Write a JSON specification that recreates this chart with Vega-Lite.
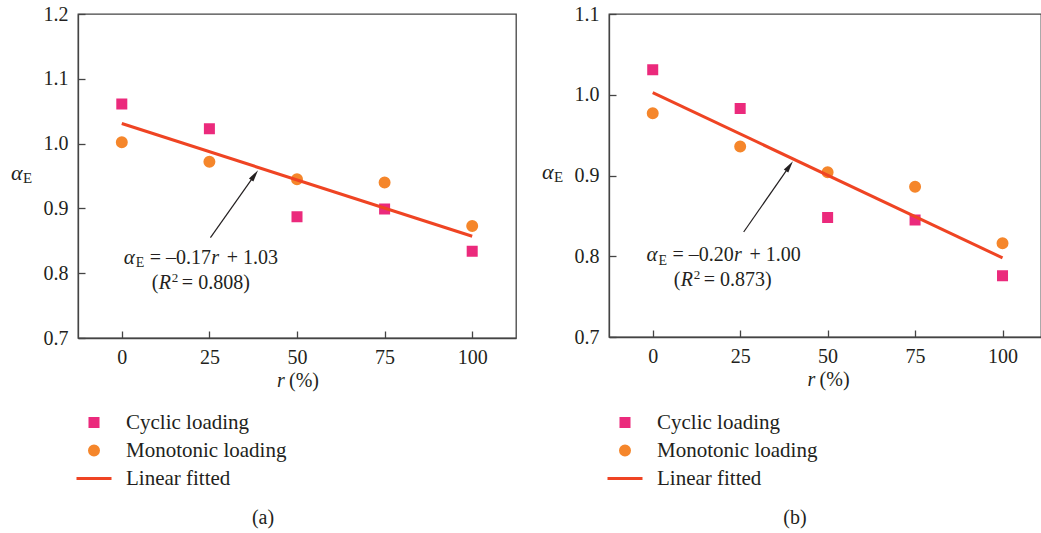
{
  "$schema": "https://vega.github.io/schema/vega-lite/v6.json",
  "padding": {"left": 10, "top": 3, "right": 0, "bottom": 0},
  "background": "white",
  "spacing": 24,
  "config": {
    "font": "Liberation Serif",
    "view": {"stroke": "#444444", "strokeWidth": 1.3},
    "axis": {
      "labelFont": "Liberation Serif", "labelFontSize": 20, "labelColor": "#231f20",
      "titleFont": "Liberation Serif", "titleFontSize": 20, "titleColor": "#231f20", "titleFontWeight": "normal",
      "domainColor": "#444444", "domainWidth": 1.3, "tickColor": "#444444", "tickWidth": 1.3,
      "tickSize": -7, "grid": false
    },
    "legend": {
      "orient": "none", "legendX": 0.5, "legendY": 393, "title": null, "padding": 0,
      "labelFont": "Liberation Serif", "labelFontSize": 21, "labelColor": "#231f20", "labelLimit": 400,
      "symbolSize": 784, "symbolStrokeWidth": 3, "labelOffset": 16.5, "rowPadding": 2, "symbolOpacity": 1
    },
    "title": {"font": "Liberation Serif", "fontSize": 20, "fontWeight": "normal", "color": "#231f20"}
  },
  "resolve": {
    "scale": {"x": "independent", "y": "independent", "color": "independent", "stroke": "independent", "shape": "independent"},
    "legend": {"color": "independent", "stroke": "independent", "shape": "independent"}
  },
  "hconcat": [
    {
      "width": 438, "height": 324,
      "title": {"text": "(a)", "orient": "bottom", "offset": 19, "dx": -34},
      "encoding": {
        "x": {"field": "x", "type": "quantitative", "scale": {"domain": [-12.5, 112.5], "nice": false, "zero": false},
              "axis": {"values": [0, 25, 50, 75, 100], "title": null, "labelPadding": 16}},
        "y": {"field": "y", "type": "quantitative", "scale": {"domain": [0.7, 1.2], "nice": false, "zero": false},
              "axis": {"values": [0.7, 0.8, 0.9, 1.0, 1.1, 1.2], "format": ".1f", "title": null, "labelPadding": 17}}
      },
      "layer": [
        {
          "data": {"values": [
            {"x": 0, "y": 1.061, "series": "Cyclic loading"},
            {"x": 25, "y": 1.023, "series": "Cyclic loading"},
            {"x": 50, "y": 0.887, "series": "Cyclic loading"},
            {"x": 75, "y": 0.899, "series": "Cyclic loading"},
            {"x": 100, "y": 0.834, "series": "Cyclic loading"},
            {"x": 0, "y": 1.002, "series": "Monotonic loading"},
            {"x": 25, "y": 0.972, "series": "Monotonic loading"},
            {"x": 50, "y": 0.945, "series": "Monotonic loading"},
            {"x": 75, "y": 0.940, "series": "Monotonic loading"},
            {"x": 100, "y": 0.873, "series": "Monotonic loading"}
          ]},
          "mark": {"type": "point", "filled": true, "size": 784, "strokeWidth": 3, "opacity": 1},
          "encoding": {
            "color": {"field": "series", "type": "nominal", "scale": {"domain": ["Cyclic loading", "Monotonic loading", "Linear fitted"], "range": ["#eb2a7c", "#f5862b", "#ef4423"]}},
            "stroke": {"field": "series", "type": "nominal", "scale": {"domain": ["Cyclic loading", "Monotonic loading", "Linear fitted"], "range": ["#eb2a7c", "#f5862b", "#ef4423"]}},
            "shape": {"field": "series", "type": "nominal", "scale": {"domain": ["Cyclic loading", "Monotonic loading", "Linear fitted"], "range": ["M-0.286,-0.286H0.286V0.286H-0.286Z", "M0.321,0A0.321,0.321,0,1,1,-0.321,0A0.321,0.321,0,1,1,0.321,0Z", "M-1.25,0H1.25"]}}
          }
        },
        {
          "data": {"values": [
            {"x": 0, "y": 1.031, "series": "Linear fitted"},
            {"x": 100, "y": 0.857, "series": "Linear fitted"}
          ]},
          "mark": {"type": "line", "strokeWidth": 3},
          "encoding": {
            "color": {"field": "series", "type": "nominal", "scale": {"domain": ["Cyclic loading", "Monotonic loading", "Linear fitted"], "range": ["#eb2a7c", "#f5862b", "#ef4423"]}}
          }
        },
        {
          "data": {"values": [{"x": 25.3, "y": 0.855, "x2": 37.9, "y2": 0.9513}]},
          "mark": {"type": "rule", "color": "#231f20", "strokeWidth": 1.2},
          "encoding": {"x2": {"field": "x2"}, "y2": {"field": "y2"}}
        },
        {
          "data": {"values": [{"x": 37.9, "y": 0.9513}]},
          "mark": {"type": "point", "shape": "M0,-1L0.45,1L-0.45,1Z", "size": 144, "angle": 35, "filled": true, "color": "#231f20", "opacity": 1}
        },
        {"data": {"values": [{"x": 0.57, "y": 0.8147, "t": "α"}]}, "mark": {"type": "text", "fontStyle": "italic", "fontSize": 21, "align": "left", "baseline": "alphabetic", "color": "#231f20"}, "encoding": {"text": {"field": "t"}}},
        {"data": {"values": [{"x": 0.57, "y": 0.8147, "t": "E"}]}, "mark": {"type": "text", "fontSize": 14, "align": "left", "baseline": "alphabetic", "dx": 12, "dy": 3.5, "color": "#231f20"}, "encoding": {"text": {"field": "t"}}},
        {"data": {"values": [{"x": 0.57, "y": 0.8147, "t": "= –0.17"}]}, "mark": {"type": "text", "fontSize": 20, "align": "left", "baseline": "alphabetic", "dx": 26, "color": "#231f20"}, "encoding": {"text": {"field": "t"}}},
        {"data": {"values": [{"x": 0.57, "y": 0.8147, "t": "r"}]}, "mark": {"type": "text", "fontStyle": "italic", "fontSize": 20, "align": "left", "baseline": "alphabetic", "dx": 87.5, "color": "#231f20"}, "encoding": {"text": {"field": "t"}}},
        {"data": {"values": [{"x": 0.57, "y": 0.8147, "t": "+ 1.03"}]}, "mark": {"type": "text", "fontSize": 20, "align": "left", "baseline": "alphabetic", "dx": 103, "color": "#231f20"}, "encoding": {"text": {"field": "t"}}},
        {"data": {"values": [{"x": 8.58, "y": 0.775, "t": "("}]}, "mark": {"type": "text", "fontSize": 20, "align": "left", "baseline": "alphabetic", "color": "#231f20"}, "encoding": {"text": {"field": "t"}}},
        {"data": {"values": [{"x": 8.58, "y": 0.775, "t": "R"}]}, "mark": {"type": "text", "fontStyle": "italic", "fontSize": 20, "align": "left", "baseline": "alphabetic", "dx": 7, "color": "#231f20"}, "encoding": {"text": {"field": "t"}}},
        {"data": {"values": [{"x": 8.58, "y": 0.775, "t": "2"}]}, "mark": {"type": "text", "fontSize": 13, "align": "left", "baseline": "alphabetic", "dx": 20, "dy": -7, "color": "#231f20"}, "encoding": {"text": {"field": "t"}}},
        {"data": {"values": [{"x": 8.58, "y": 0.775, "t": "= 0.808)"}]}, "mark": {"type": "text", "fontSize": 20, "align": "left", "baseline": "alphabetic", "dx": 30, "color": "#231f20"}, "encoding": {"text": {"field": "t"}}},
        {"data": {"values": [{"x": -12.5, "y": 0.9434, "t": "α"}]}, "mark": {"type": "text", "fontStyle": "italic", "fontSize": 22, "align": "left", "baseline": "alphabetic", "dx": -67, "color": "#231f20"}, "encoding": {"text": {"field": "t"}}},
        {"data": {"values": [{"x": -12.5, "y": 0.9434, "t": "E"}]}, "mark": {"type": "text", "fontSize": 15, "align": "left", "baseline": "alphabetic", "dx": -55, "dy": 3, "color": "#231f20"}, "encoding": {"text": {"field": "t"}}},
        {"data": {"values": [{"x": 50, "y": 0.7, "t": "r"}]}, "mark": {"type": "text", "fontStyle": "italic", "fontSize": 20, "align": "left", "baseline": "alphabetic", "dx": -20, "dy": 49, "color": "#231f20"}, "encoding": {"text": {"field": "t"}}},
        {"data": {"values": [{"x": 50, "y": 0.7, "t": "(%)"}]}, "mark": {"type": "text", "fontSize": 20, "align": "left", "baseline": "alphabetic", "dx": -8, "dy": 49, "color": "#231f20"}, "encoding": {"text": {"field": "t"}}}
      ]
    },
    {
      "width": 432, "height": 323,
      "title": {"text": "(b)", "orient": "bottom", "offset": 19, "dx": -30},
      "encoding": {
        "x": {"field": "x", "type": "quantitative", "scale": {"domain": [-12.5, 111], "nice": false, "zero": false},
              "axis": {"values": [0, 25, 50, 75, 100], "title": null, "labelPadding": 16}},
        "y": {"field": "y", "type": "quantitative", "scale": {"domain": [0.7, 1.1], "nice": false, "zero": false},
              "axis": {"values": [0.7, 0.8, 0.9, 1.0, 1.1], "format": ".1f", "title": null, "labelPadding": 17}}
      },
      "layer": [
        {
          "data": {"values": [
            {"x": 0, "y": 1.031, "series": "Cyclic loading"},
            {"x": 25, "y": 0.983, "series": "Cyclic loading"},
            {"x": 50, "y": 0.848, "series": "Cyclic loading"},
            {"x": 75, "y": 0.845, "series": "Cyclic loading"},
            {"x": 100, "y": 0.776, "series": "Cyclic loading"},
            {"x": 0, "y": 0.977, "series": "Monotonic loading"},
            {"x": 25, "y": 0.936, "series": "Monotonic loading"},
            {"x": 50, "y": 0.904, "series": "Monotonic loading"},
            {"x": 75, "y": 0.886, "series": "Monotonic loading"},
            {"x": 100, "y": 0.816, "series": "Monotonic loading"}
          ]},
          "mark": {"type": "point", "filled": true, "size": 784, "strokeWidth": 3, "opacity": 1},
          "encoding": {
            "color": {"field": "series", "type": "nominal", "scale": {"domain": ["Cyclic loading", "Monotonic loading", "Linear fitted"], "range": ["#eb2a7c", "#f5862b", "#ef4423"]}},
            "stroke": {"field": "series", "type": "nominal", "scale": {"domain": ["Cyclic loading", "Monotonic loading", "Linear fitted"], "range": ["#eb2a7c", "#f5862b", "#ef4423"]}},
            "shape": {"field": "series", "type": "nominal", "scale": {"domain": ["Cyclic loading", "Monotonic loading", "Linear fitted"], "range": ["M-0.286,-0.286H0.286V0.286H-0.286Z", "M0.321,0A0.321,0.321,0,1,1,-0.321,0A0.321,0.321,0,1,1,0.321,0Z", "M-1.25,0H1.25"]}}
          }
        },
        {
          "data": {"values": [
            {"x": 0, "y": 1.0026, "series": "Linear fitted"},
            {"x": 100, "y": 0.798, "series": "Linear fitted"}
          ]},
          "mark": {"type": "line", "strokeWidth": 3},
          "encoding": {
            "color": {"field": "series", "type": "nominal", "scale": {"domain": ["Cyclic loading", "Monotonic loading", "Linear fitted"], "range": ["#eb2a7c", "#f5862b", "#ef4423"]}}
          }
        },
        {
          "data": {"values": [{"x": 26.0, "y": 0.830, "x2": 39.1, "y2": 0.9116}]},
          "mark": {"type": "rule", "color": "#231f20", "strokeWidth": 1.2},
          "encoding": {"x2": {"field": "x2"}, "y2": {"field": "y2"}}
        },
        {
          "data": {"values": [{"x": 39.1, "y": 0.9116}]},
          "mark": {"type": "point", "shape": "M0,-1L0.45,1L-0.45,1Z", "size": 144, "angle": 35, "filled": true, "color": "#231f20", "opacity": 1}
        },
        {"data": {"values": [{"x": -1.8, "y": 0.7939, "t": "α"}]}, "mark": {"type": "text", "fontStyle": "italic", "fontSize": 21, "align": "left", "baseline": "alphabetic", "color": "#231f20"}, "encoding": {"text": {"field": "t"}}},
        {"data": {"values": [{"x": -1.8, "y": 0.7939, "t": "E"}]}, "mark": {"type": "text", "fontSize": 14, "align": "left", "baseline": "alphabetic", "dx": 12, "dy": 3.5, "color": "#231f20"}, "encoding": {"text": {"field": "t"}}},
        {"data": {"values": [{"x": -1.8, "y": 0.7939, "t": "= –0.20"}]}, "mark": {"type": "text", "fontSize": 20, "align": "left", "baseline": "alphabetic", "dx": 26, "color": "#231f20"}, "encoding": {"text": {"field": "t"}}},
        {"data": {"values": [{"x": -1.8, "y": 0.7939, "t": "r"}]}, "mark": {"type": "text", "fontStyle": "italic", "fontSize": 20, "align": "left", "baseline": "alphabetic", "dx": 87.5, "color": "#231f20"}, "encoding": {"text": {"field": "t"}}},
        {"data": {"values": [{"x": -1.8, "y": 0.7939, "t": "+ 1.00"}]}, "mark": {"type": "text", "fontSize": 20, "align": "left", "baseline": "alphabetic", "dx": 103, "color": "#231f20"}, "encoding": {"text": {"field": "t"}}},
        {"data": {"values": [{"x": 6.0, "y": 0.763, "t": "("}]}, "mark": {"type": "text", "fontSize": 20, "align": "left", "baseline": "alphabetic", "color": "#231f20"}, "encoding": {"text": {"field": "t"}}},
        {"data": {"values": [{"x": 6.0, "y": 0.763, "t": "R"}]}, "mark": {"type": "text", "fontStyle": "italic", "fontSize": 20, "align": "left", "baseline": "alphabetic", "dx": 7, "color": "#231f20"}, "encoding": {"text": {"field": "t"}}},
        {"data": {"values": [{"x": 6.0, "y": 0.763, "t": "2"}]}, "mark": {"type": "text", "fontSize": 13, "align": "left", "baseline": "alphabetic", "dx": 20, "dy": -7, "color": "#231f20"}, "encoding": {"text": {"field": "t"}}},
        {"data": {"values": [{"x": 6.0, "y": 0.763, "t": "= 0.873)"}]}, "mark": {"type": "text", "fontSize": 20, "align": "left", "baseline": "alphabetic", "dx": 30, "color": "#231f20"}, "encoding": {"text": {"field": "t"}}},
        {"data": {"values": [{"x": -12.5, "y": 0.8962, "t": "α"}]}, "mark": {"type": "text", "fontStyle": "italic", "fontSize": 22, "align": "left", "baseline": "alphabetic", "dx": -67, "color": "#231f20"}, "encoding": {"text": {"field": "t"}}},
        {"data": {"values": [{"x": -12.5, "y": 0.8962, "t": "E"}]}, "mark": {"type": "text", "fontSize": 15, "align": "left", "baseline": "alphabetic", "dx": -55, "dy": 3, "color": "#231f20"}, "encoding": {"text": {"field": "t"}}},
        {"data": {"values": [{"x": 50, "y": 0.7, "t": "r"}]}, "mark": {"type": "text", "fontStyle": "italic", "fontSize": 20, "align": "left", "baseline": "alphabetic", "dx": -20, "dy": 49, "color": "#231f20"}, "encoding": {"text": {"field": "t"}}},
        {"data": {"values": [{"x": 50, "y": 0.7, "t": "(%)"}]}, "mark": {"type": "text", "fontSize": 20, "align": "left", "baseline": "alphabetic", "dx": -8, "dy": 49, "color": "#231f20"}, "encoding": {"text": {"field": "t"}}}
      ]
    }
  ]
}
